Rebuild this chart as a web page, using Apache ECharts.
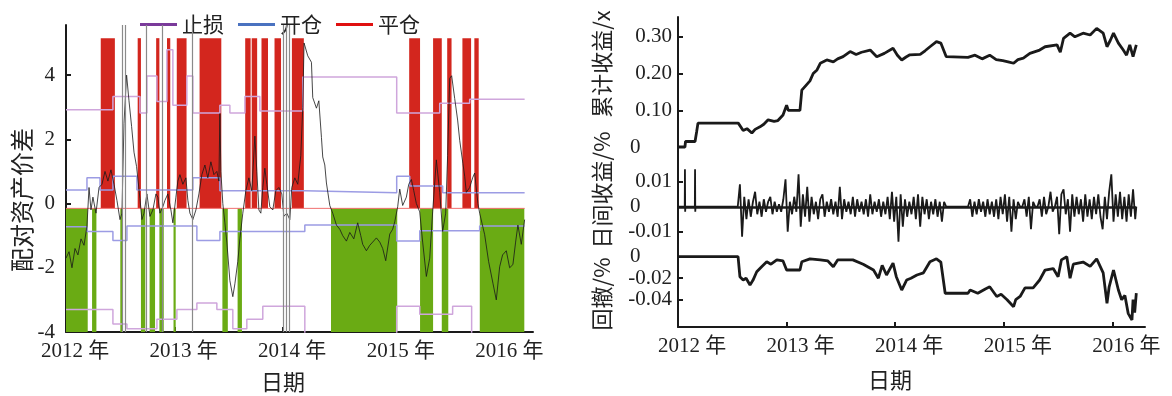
<!DOCTYPE html>
<html><head><meta charset="utf-8">
<script src="https://cdn.jsdelivr.net/npm/echarts@6/dist/echarts.min.js"></script>
<style>html,body{margin:0;padding:0;background:#fff}#c{width:1172px;height:396px}</style>
</head><body><div id="c"></div>
<script>
// ---------- tick labels ----------
const yearTicks = [2012, 2013, 2014, 2015, 2016];
const spreadTicks = [-4, -2, 0, 2, 4];
const cumTicks = [0, 0.1, 0.2, 0.3];
const retTicks = [-0.01, 0, 0.01];
const ddTicks = [-0.04, -0.02, 0];

// ---------- left panel: position bands (decimal years) ----------
const redBands = [[2012.32,2012.45],[2012.66,2012.69],[2012.83,2012.86],[2012.93,2012.96],[2013.02,2013.11],
  [2013.23,2013.43],[2013.65,2013.70],[2013.71,2013.76],[2013.80,2013.86],[2013.92,2013.98],[2014.08,2014.19],
  [2015.16,2015.26],[2015.38,2015.46],[2015.51,2015.55],[2015.65,2015.73],[2015.76,2015.80]];
const greenBands = [[2012.00,2012.20],[2012.24,2012.28],[2012.50,2012.52],[2012.69,2012.73],[2012.77,2012.82],
  [2012.86,2012.90],[2012.99,2013.01],[2013.44,2013.49],[2013.58,2013.62],[2014.44,2015.05],[2015.26,2015.38],
  [2015.46,2015.52],[2015.81,2016.22]];
const eventLines = [2012.52, 2012.55, 2012.745, 2012.89, 2013.16, 2014.00, 2014.03, 2014.06];
const closeLevel = -0.15;
const bandTop = 5.15;

// spread of the paired assets
const spread = [[2012.000,-1.7],[2012.028,-1.5],[2012.055,-2.0],[2012.083,-1.4],[2012.110,-1.6],[2012.138,-1.1],[2012.166,-1.3],[2012.193,-0.7],[2012.212,0.5],[2012.230,-0.2],[2012.248,0.2],[2012.276,-0.3],[2012.304,0.5],[2012.331,0.6],[2012.359,1.0],[2012.386,0.7],[2012.414,1.05],[2012.442,0.6],[2012.469,0.1],[2012.497,-0.5],[2012.515,-0.3],[2012.534,2.5],[2012.558,4.0],[2012.580,3.2],[2012.604,2.4],[2012.626,1.6],[2012.650,1.15],[2012.681,0.15],[2012.699,-0.5],[2012.718,-0.3],[2012.745,0.3],[2012.773,-0.4],[2012.800,-0.2],[2012.828,0.3],[2012.846,0.2],[2012.865,-0.3],[2012.892,-0.1],[2012.911,0.1],[2012.938,0.3],[2012.966,-0.2],[2012.984,-0.6],[2013.012,0.2],[2013.030,0.7],[2013.049,0.9],[2013.076,0.6],[2013.104,0.8],[2013.122,0.1],[2013.141,-0.3],[2013.168,-0.5],[2013.196,-0.2],[2013.224,0.3],[2013.251,0.9],[2013.279,1.2],[2013.306,0.8],[2013.334,1.3],[2013.362,0.9],[2013.389,1.0],[2013.408,0.7],[2013.417,2.8],[2013.426,1.0],[2013.444,0.0],[2013.463,-0.6],[2013.481,-1.2],[2013.509,-2.4],[2013.536,-2.9],[2013.555,-2.5],[2013.582,-1.8],[2013.601,-1.1],[2013.628,-0.3],[2013.656,0.4],[2013.684,0.8],[2013.711,0.4],[2013.739,2.1],[2013.757,1.0],[2013.776,-0.2],[2013.794,-0.3],[2013.812,0.5],[2013.831,1.1],[2013.849,0.6],[2013.877,-0.1],[2013.904,-0.2],[2013.932,0.4],[2013.960,0.5],[2013.987,0.3],[2014.006,-0.4],[2014.033,-0.3],[2014.061,-0.5],[2014.079,0.5],[2014.107,0.8],[2014.134,0.6],[2014.162,1.5],[2014.180,3.0],[2014.192,5.0],[2014.226,4.6],[2014.260,4.4],[2014.272,3.3],[2014.306,2.97],[2014.328,3.2],[2014.352,2.06],[2014.364,1.45],[2014.383,1.2],[2014.398,0.64],[2014.429,-0.06],[2014.456,-0.3],[2014.490,-0.67],[2014.521,-0.8],[2014.548,-1.0],[2014.582,-1.17],[2014.613,-0.9],[2014.650,-1.1],[2014.686,-0.6],[2014.714,-1.0],[2014.732,-1.27],[2014.766,-1.47],[2014.797,-1.3],[2014.824,-1.2],[2014.858,-1.07],[2014.889,-1.2],[2014.916,-1.4],[2014.944,-1.78],[2014.981,-0.95],[2015.008,-0.8],[2015.027,-0.57],[2015.054,-0.1],[2015.073,0.45],[2015.100,-0.06],[2015.134,0.2],[2015.156,0.6],[2015.180,0.75],[2015.202,0.4],[2015.226,0.0],[2015.257,-0.26],[2015.284,-1.2],[2015.318,-2.27],[2015.349,-1.7],[2015.376,-0.26],[2015.410,1.36],[2015.441,0.35],[2015.468,-0.87],[2015.496,-0.3],[2015.514,1.5],[2015.533,3.9],[2015.551,3.98],[2015.579,3.27],[2015.606,2.6],[2015.625,1.97],[2015.655,1.24],[2015.671,0.85],[2015.686,0.35],[2015.717,0.5],[2015.744,0.8],[2015.763,0.95],[2015.793,0.0],[2015.809,-0.3],[2015.855,-0.97],[2015.891,-1.8],[2015.931,-2.48],[2015.962,-3.0],[2015.993,-1.97],[2016.020,-1.6],[2016.054,-1.47],[2016.085,-2.0],[2016.115,-1.9],[2016.140,-1.2],[2016.161,-0.67],[2016.192,-1.27],[2016.223,-0.5]];

// thresholds (step lines: value holds from the given date)
const stopUpper = [[2012.0,2.92],[2012.432,3.33],[2012.681,2.82],[2012.745,3.97],[2012.837,3.18],[2012.929,4.79],[2012.984,3.06],[2013.113,3.97],[2013.168,2.82],[2013.417,3.06],[2013.509,2.82],[2013.647,3.33],[2013.785,2.88],[2014.180,3.94],[2015.045,2.82],[2015.441,3.12],[2015.717,3.25],[2016.223,3.25]];
const stopLower = [[2012.0,-3.3],[2012.432,-3.75],[2012.561,-3.9],[2012.837,-3.6],[2013.021,-3.3],[2013.205,-3.1],[2013.389,-3.3],[2013.536,-3.9],[2013.665,-3.6],[2013.812,-3.2],[2014.199,-4.3],[2015.045,-3.2],[2015.257,-3.45],[2015.560,-3.2],[2015.735,-4.3],[2016.223,-4.3]];
const openUpper = [[2012.0,0.42],[2012.193,0.80],[2012.313,0.42],[2012.432,0.85],[2012.653,0.42],[2013.168,0.80],[2013.417,0.40],[2014.199,0.34],[2015.045,0.85],[2015.165,0.55],[2015.468,0.34],[2016.223,0.34]];
const openLower = [[2012.0,-0.72],[2012.193,-0.87],[2012.432,-1.15],[2012.561,-0.70],[2013.205,-1.15],[2013.417,-0.87],[2014.199,-0.67],[2015.045,-1.17],[2015.257,-0.85],[2015.809,-0.70],[2016.223,-0.70]];
const closeLine = [[2012.0,-0.15],[2016.223,-0.15]];

// ---------- right panel ----------
const cumReturn = [[2012.000,0],[2012.064,0],[2012.069,0.015],[2012.157,0.015],[2012.172,0.042],[2012.184,0.065],[2012.555,0.065],[2012.600,0.045],[2012.635,0.050],[2012.680,0.038],[2012.710,0.048],[2012.755,0.055],[2012.790,0.062],[2012.830,0.074],[2012.885,0.070],[2012.920,0.072],[2012.967,0.087],[2013.000,0.114],[2013.015,0.100],[2013.123,0.100],[2013.140,0.155],[2013.185,0.170],[2013.215,0.180],[2013.245,0.200],[2013.280,0.210],[2013.310,0.228],[2013.370,0.237],[2013.430,0.232],[2013.470,0.240],[2013.520,0.246],[2013.585,0.260],[2013.640,0.252],[2013.690,0.258],[2013.770,0.264],[2013.830,0.246],[2013.900,0.255],[2013.980,0.269],[2014.020,0.250],[2014.060,0.237],[2014.100,0.245],[2014.135,0.251],[2014.230,0.252],[2014.275,0.262],[2014.320,0.273],[2014.380,0.287],[2014.420,0.283],[2014.470,0.246],[2014.670,0.244],[2014.735,0.250],[2014.800,0.240],[2014.870,0.250],[2014.930,0.238],[2014.990,0.235],[2015.040,0.232],[2015.090,0.228],[2015.130,0.238],[2015.180,0.242],[2015.240,0.255],[2015.330,0.264],[2015.380,0.273],[2015.490,0.278],[2015.520,0.258],[2015.550,0.296],[2015.610,0.310],[2015.655,0.300],[2015.730,0.310],[2015.795,0.305],[2015.855,0.323],[2015.915,0.310],[2015.950,0.273],[2015.980,0.290],[2016.010,0.310],[2016.055,0.283],[2016.100,0.264],[2016.130,0.250],[2016.160,0.278],[2016.190,0.246],[2016.220,0.278]];

const dailyReturn = [[2012.000,0],[2012.062,0],[2012.064,0.015],[2012.066,-0.002],[2012.068,0],[2012.155,0],[2012.157,0.015],[2012.159,-0.002],[2012.161,0],
[2012.55,0],[2012.57,0.009],[2012.59,-0.012],[2012.61,0.004],[2012.63,-0.005],[2012.65,0.003],[2012.67,-0.004],[2012.69,0.002],[2012.71,0.006],[2012.73,-0.003],[2012.75,0.002],[2012.77,-0.004],[2012.79,0.003],[2012.81,-0.002],[2012.83,0.002],[2012.85,0.004],[2012.87,-0.003],[2012.89,0.002],[2012.91,-0.002],[2012.93,0.001],[2012.95,-0.002],[2012.97,0.003],[2012.99,0.011],[2013.01,-0.010],[2013.03,0.002],[2013.05,-0.003],[2013.07,0.004],[2013.09,-0.002],[2013.11,0.013],[2013.13,-0.008],[2013.15,0.005],[2013.17,-0.004],[2013.19,0.008],[2013.21,-0.006],[2013.23,0.004],[2013.25,-0.003],[2013.27,0.002],[2013.29,-0.005],[2013.31,0.003],[2013.33,0.005],[2013.35,-0.004],[2013.37,0.002],[2013.39,-0.002],[2013.41,0.003],[2013.43,-0.003],[2013.45,0.002],[2013.47,-0.004],[2013.49,0.008],[2013.51,-0.005],[2013.53,0.003],[2013.55,-0.002],[2013.57,0.002],[2013.59,-0.003],[2013.61,0.004],[2013.63,-0.004],[2013.65,0.003],[2013.67,-0.002],[2013.69,0.002],[2013.71,-0.003],[2013.73,0.003],[2013.75,-0.004],[2013.77,0.005],[2013.79,-0.003],[2013.81,0.002],[2013.83,-0.002],[2013.85,0.003],[2013.87,-0.004],[2013.89,0.002],[2013.91,-0.003],[2013.93,0.004],[2013.95,-0.005],[2013.97,0.006],[2013.99,-0.006],[2014.01,0.004],[2014.03,-0.014],[2014.05,0.005],[2014.07,-0.008],[2014.09,0.003],[2014.11,-0.004],[2014.13,0.002],[2014.15,-0.003],[2014.17,0.004],[2014.19,-0.005],[2014.21,0.005],[2014.23,-0.008],[2014.25,0.004],[2014.27,-0.003],[2014.29,0.003],[2014.31,-0.005],[2014.33,0.002],[2014.35,-0.003],[2014.37,0.003],[2014.39,-0.004],[2014.41,0.002],[2014.43,-0.006],[2014.45,0.002],[2014.47,0],
[2014.67,0],[2014.69,0.003],[2014.71,-0.004],[2014.73,0.002],[2014.75,-0.003],[2014.77,0.003],[2014.79,-0.002],[2014.81,0.002],[2014.83,-0.004],[2014.85,0.003],[2014.87,-0.003],[2014.89,0.002],[2014.91,-0.004],[2014.93,0.003],[2014.95,-0.005],[2014.97,0.004],[2014.99,-0.003],[2015.01,0.005],[2015.03,-0.006],[2015.05,0.004],[2015.07,-0.010],[2015.09,0.003],[2015.11,-0.005],[2015.13,0.002],[2015.15,0],[2015.17,0],[2015.19,0.003],[2015.21,-0.004],[2015.23,0.004],[2015.25,-0.009],[2015.27,0.002],[2015.29,0],[2015.31,0],[2015.33,0.003],[2015.35,-0.004],[2015.37,0.004],[2015.39,-0.003],[2015.41,0],[2015.43,0.006],[2015.45,-0.002],[2015.47,0],[2015.49,0.004],[2015.51,-0.011],[2015.53,0.005],[2015.55,0.007],[2015.57,-0.003],[2015.59,0.003],[2015.61,-0.010],[2015.63,0.005],[2015.65,-0.004],[2015.67,0.004],[2015.69,-0.003],[2015.71,0.003],[2015.73,-0.006],[2015.75,0.005],[2015.77,-0.004],[2015.79,0.003],[2015.81,-0.005],[2015.83,0.004],[2015.85,-0.003],[2015.87,0.005],[2015.89,-0.004],[2015.91,-0.009],[2015.93,0.004],[2015.95,-0.005],[2015.97,0.006],[2015.99,0.013],[2016.01,-0.006],[2016.03,0.005],[2016.05,-0.004],[2016.07,0.006],[2016.09,-0.005],[2016.11,0.004],[2016.13,-0.006],[2016.15,0.005],[2016.17,-0.004],[2016.19,0.007],[2016.21,-0.005],[2016.22,0]];

const drawdown = [[2012.000,0],[2012.553,0],[2012.570,-0.0186],[2012.600,-0.0217],[2012.627,-0.020],[2012.663,-0.0263],[2012.690,-0.022],[2012.725,-0.014],[2012.770,-0.0093],[2012.817,-0.0047],[2012.856,-0.007],[2012.910,-0.003],[2012.967,-0.004],[2013.000,-0.0124],[2013.123,-0.0124],[2013.140,-0.0047],[2013.215,-0.002],[2013.310,-0.003],[2013.380,-0.004],[2013.430,-0.0093],[2013.470,-0.003],[2013.610,-0.003],[2013.705,-0.007],[2013.800,-0.0124],[2013.845,-0.020],[2013.880,-0.008],[2013.920,-0.017],[2013.980,-0.006],[2014.010,-0.0186],[2014.060,-0.031],[2014.105,-0.0217],[2014.145,-0.020],[2014.200,-0.017],[2014.260,-0.015],[2014.320,-0.0047],[2014.380,-0.002],[2014.420,-0.005],[2014.460,-0.034],[2014.670,-0.034],[2014.690,-0.031],[2014.760,-0.034],[2014.830,-0.030],[2014.870,-0.028],[2014.935,-0.037],[2014.975,-0.035],[2015.030,-0.040],[2015.090,-0.0465],[2015.110,-0.040],[2015.150,-0.037],[2015.195,-0.029],[2015.270,-0.029],[2015.330,-0.0217],[2015.380,-0.0124],[2015.455,-0.011],[2015.500,-0.0186],[2015.530,-0.003],[2015.580,0],[2015.610,-0.020],[2015.640,-0.007],[2015.730,-0.005],[2015.795,-0.009],[2015.855,-0.002],[2015.915,-0.015],[2015.950,-0.0434],[2015.970,-0.028],[2016.010,-0.0124],[2016.055,-0.031],[2016.085,-0.040],[2016.115,-0.036],[2016.145,-0.0527],[2016.180,-0.0589],[2016.190,-0.040],[2016.205,-0.052],[2016.220,-0.034]];

// ---------- styling ----------
const SERIF = "'Liberation Serif','Times New Roman','Noto Sans CJK SC',serif";
const CJK = "'Noto Sans CJK SC','Noto Sans',sans-serif";
const INK = '#1a1a1a';
const RED = '#d3261e', GREEN = '#6aab14';

function xAx(gi, show, padLeft) {
  return {
    type: 'value', gridIndex: gi, min: 2012, max: 2016.3, show: show,
    axisLine: { show: true, onZero: false, lineStyle: { color: INK, width: 2 } },
    axisTick: { show: true, inside: true, length: 5, customValues: yearTicks, lineStyle: { color: INK, width: 2 } },
    axisLabel: { show: true, customValues: yearTicks, formatter: v => v + ' 年', fontFamily: SERIF, fontSize: 21,
      color: '#222', margin: 9, padding: [0, 0, 0, padLeft] },
    splitLine: { show: false }
  };
}
function yAxRight(gi, min, max, ticks) {
  return {
    type: 'value', gridIndex: gi, min: min, max: max,
    axisLine: { show: true, onZero: false, lineStyle: { color: INK, width: 2 } },
    axisTick: { show: true, inside: true, length: 5, customValues: ticks, lineStyle: { color: INK, width: 2 } },
    axisLabel: { customValues: ticks, align: 'right', margin: 6,
      formatter: v => Math.abs(v) < 1e-9 ? '{z|0}' : v.toFixed(2),
      fontFamily: SERIF, fontSize: 21, color: '#222',
      rich: { z: { width: 42, align: 'left', fontFamily: SERIF, fontSize: 21, color: '#222' } } },
    splitLine: { show: false }
  };
}

const chart = echarts.init(document.getElementById('c'), null, { renderer: 'canvas' });
chart.setOption({
  animation: false,
  backgroundColor: '#fff',
  grid: [
    { left: 66, top: 25, width: 467, height: 307 },
    { left: 678, top: 17, width: 467, height: 135 },
    { left: 678, top: 152, width: 467, height: 92 },
    { left: 678, top: 244, width: 467, height: 83 }
  ],
  legend: {
    left: 135, top: 9, itemWidth: 37, itemHeight: 3, itemGap: 14, icon: 'rect',
    textStyle: { fontFamily: CJK, fontSize: 21, color: '#222' },
    data: [
      { name: '止损', itemStyle: { color: '#7a3a9a' } },
      { name: '开仓', itemStyle: { color: '#4a72c0' } },
      { name: '平仓', itemStyle: { color: '#e01010' } }
    ]
  },
  xAxis: [xAx(0, true, 18), xAx(1, false, 0), xAx(2, false, 0), xAx(3, true, 28)],
  yAxis: [
    { type: 'value', gridIndex: 0, min: -4, max: 5.56,
      axisLine: { show: true, onZero: false, lineStyle: { color: INK, width: 2 } },
      axisTick: { show: true, inside: true, length: 5, customValues: spreadTicks, lineStyle: { color: INK, width: 2 } },
      axisLabel: { customValues: spreadTicks, margin: 11, fontFamily: SERIF, fontSize: 21, color: '#222' },
      splitLine: { show: false } },
    yAxRight(1, -0.0136, 0.354, cumTicks),
    yAxRight(2, -0.0149, 0.0219, retTicks),
    yAxRight(3, -0.0654, 0.0118, ddTicks)
  ],
  graphic: [
    { type: 'text', x: 22, y: 200, rotation: Math.PI / 2,
      style: { text: '配对资产价差', fontFamily: CJK, fontSize: 24, fill: '#222', align: 'center', verticalAlign: 'middle' } },
    { type: 'text', x: 602, y: 64, rotation: Math.PI / 2,
      style: { text: '累计收益/x', fontFamily: CJK, fontSize: 22, fill: '#222', align: 'center', verticalAlign: 'middle' } },
    { type: 'text', x: 602, y: 190, rotation: Math.PI / 2,
      style: { text: '日间收益/%', fontFamily: CJK, fontSize: 22, fill: '#222', align: 'center', verticalAlign: 'middle' } },
    { type: 'text', x: 602, y: 294, rotation: Math.PI / 2,
      style: { text: '回撤/%', fontFamily: CJK, fontSize: 22, fill: '#222', align: 'center', verticalAlign: 'middle' } },
    { type: 'text', x: 283, y: 382,
      style: { text: '日期', fontFamily: CJK, fontSize: 22, fill: '#222', align: 'center', verticalAlign: 'middle' } },
    { type: 'text', x: 890, y: 380,
      style: { text: '日期', fontFamily: CJK, fontSize: 22, fill: '#222', align: 'center', verticalAlign: 'middle' } }
  ],
  series: [
    { name: '平仓', type: 'line', xAxisIndex: 0, yAxisIndex: 0, data: closeLine, symbol: 'none', z: 2,
      lineStyle: { color: '#f07070', width: 1 },
      markArea: { silent: true, itemStyle: { opacity: 1 },
        data: redBands.map(b => [{ xAxis: b[0], yAxis: closeLevel, itemStyle: { color: RED } }, { xAxis: b[1], yAxis: bandTop }])
          .concat(greenBands.map(b => [{ xAxis: b[0], yAxis: -4, itemStyle: { color: GREEN } }, { xAxis: b[1], yAxis: closeLevel }])) },
      markLine: { silent: true, symbol: 'none', label: { show: false },
        lineStyle: { color: '#8a8a8a', width: 1.2, type: 'solid' },
        data: eventLines.map(x => ({ xAxis: x })) } },
    { name: '止损', type: 'line', xAxisIndex: 0, yAxisIndex: 0, data: stopUpper, step: 'end', symbol: 'none', z: 3,
      lineStyle: { color: '#cfa6dc', width: 1.5 } },
    { name: '止损', type: 'line', xAxisIndex: 0, yAxisIndex: 0, data: stopLower, step: 'end', symbol: 'none', z: 3,
      lineStyle: { color: '#cfa6dc', width: 1.5 } },
    { name: '开仓', type: 'line', xAxisIndex: 0, yAxisIndex: 0, data: openUpper, step: 'end', symbol: 'none', z: 3,
      lineStyle: { color: '#9c9ce4', width: 1.5 } },
    { name: '开仓', type: 'line', xAxisIndex: 0, yAxisIndex: 0, data: openLower, step: 'end', symbol: 'none', z: 3,
      lineStyle: { color: '#9c9ce4', width: 1.5 } },
    { name: 'spread', type: 'line', xAxisIndex: 0, yAxisIndex: 0, data: spread, symbol: 'none', z: 4,
      lineStyle: { color: 'rgba(25,25,25,0.8)', width: 1 } },
    { name: 'cum', type: 'line', xAxisIndex: 1, yAxisIndex: 1, data: cumReturn, symbol: 'none',
      lineStyle: { color: INK, width: 2.8 } },
    { name: 'ret', type: 'line', xAxisIndex: 2, yAxisIndex: 2, data: dailyReturn, symbol: 'none',
      lineStyle: { color: INK, width: 1.8 },
      markLine: { silent: true, symbol: 'none', label: { show: false }, lineStyle: { color: INK, width: 2.5, type: 'solid' },
        data: [[{ coord: [dailyReturn[0][0], 0] }, { coord: [dailyReturn[dailyReturn.length - 1][0], 0] }]] } },
    { name: 'dd', type: 'line', xAxisIndex: 3, yAxisIndex: 3, data: drawdown, symbol: 'none',
      lineStyle: { color: INK, width: 2.8 } }
  ]
});
</script></body></html>
